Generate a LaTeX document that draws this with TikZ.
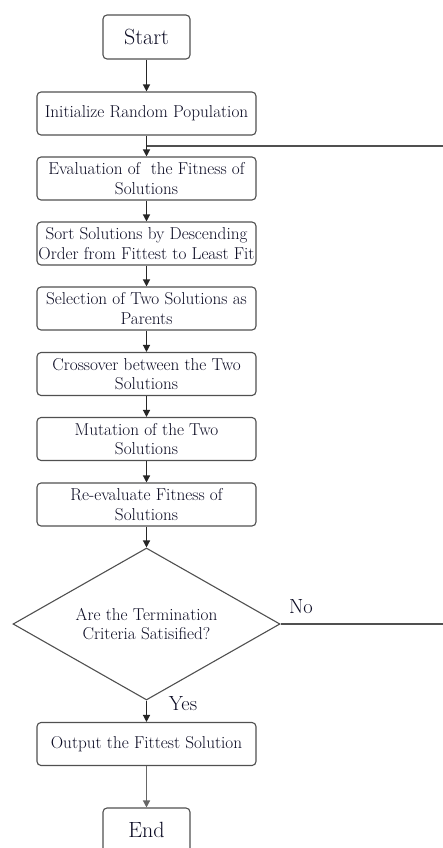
\documentclass[tikz,border=0pt]{standalone}
\usetikzlibrary{shapes.geometric,arrows.meta,calc}
\definecolor{edge}{HTML}{505050}
\definecolor{txt}{HTML}{0C0C24}
\begin{document}
\begin{tikzpicture}[x=1pt,y=-1pt,
  box/.style={draw=edge,line width=1.1pt,rounded corners=4pt,minimum width=219pt,minimum height=43pt,inner sep=0pt,align=center,text=txt,font=\fontsize{17.2}{19.3}\selectfont},
  term/.style={box,minimum width=87pt,minimum height=44pt,font=\fontsize{22}{24}\selectfont},
  dec/.style={draw=edge,line width=1.1pt,diamond,aspect=1.76,minimum width=267pt,minimum height=152pt,inner sep=0pt,align=center,text=txt,font=\fontsize{17.2}{19.3}\selectfont},
  arr/.style={draw=black!85,line width=1.3pt,-{Triangle[length=7pt,width=7pt]}},
  lnk/.style={draw=edge,line width=1.3pt},
  lbl/.style={text=txt,font=\fontsize{20.5}{23}\selectfont,inner sep=0pt}]
\clip (0,0) rectangle (443,848);
\fill[white] (0,0) rectangle (443,848);
\node[term] (start) at (146.5,37) {Start};
\node[box] (init) at (146.5,113.5) {Initialize Random Population};
\node[box] (eval) at (146.5,178.5) {Evaluation of\ \ the Fitness of\\Solutions};
\node[box] (sort) at (146.5,243.5) {Sort Solutions by Descending\\Order from Fittest to Least Fit};
\node[box] (sel) at (146.5,308.5) {Selection of Two Solutions as\\Parents};
\node[box] (cross) at (146.5,374) {Crossover between the Two\\Solutions};
\node[box] (mut) at (146.5,439) {Mutation of the Two\\Solutions};
\node[box] (reev) at (146.5,504.5) {Re-evaluate Fitness of\\Solutions};
\node[dec] (dia) at (146.5,624) {Are the Termination\\Criteria Satisified?};
\node[box] (out) at (146.5,744) {Output the Fittest Solution};
\node[term] (end) at (146.5,830) {End};
\node[lbl] (no) at (301,607) {No};
\node[lbl] (yes) at (183,704) {Yes};
\coordinate (join) at ($(init.south)!0.5!(eval.north)$);
\draw[arr] (start) -- (init);
\draw[arr] (init) -- (eval);
\draw[arr] (eval) -- (sort);
\draw[arr] (sort) -- (sel);
\draw[arr] (sel) -- (cross);
\draw[arr] (cross) -- (mut);
\draw[arr] (mut) -- (reev);
\draw[arr] (reev) -- (dia.north);
\draw[arr] (dia.south) -- (out);
\draw[arr,draw=black!60] (out) -- (end);
\draw[lnk] (dia.east) -- (460,624) |- (join);
\end{tikzpicture}
\end{document}
